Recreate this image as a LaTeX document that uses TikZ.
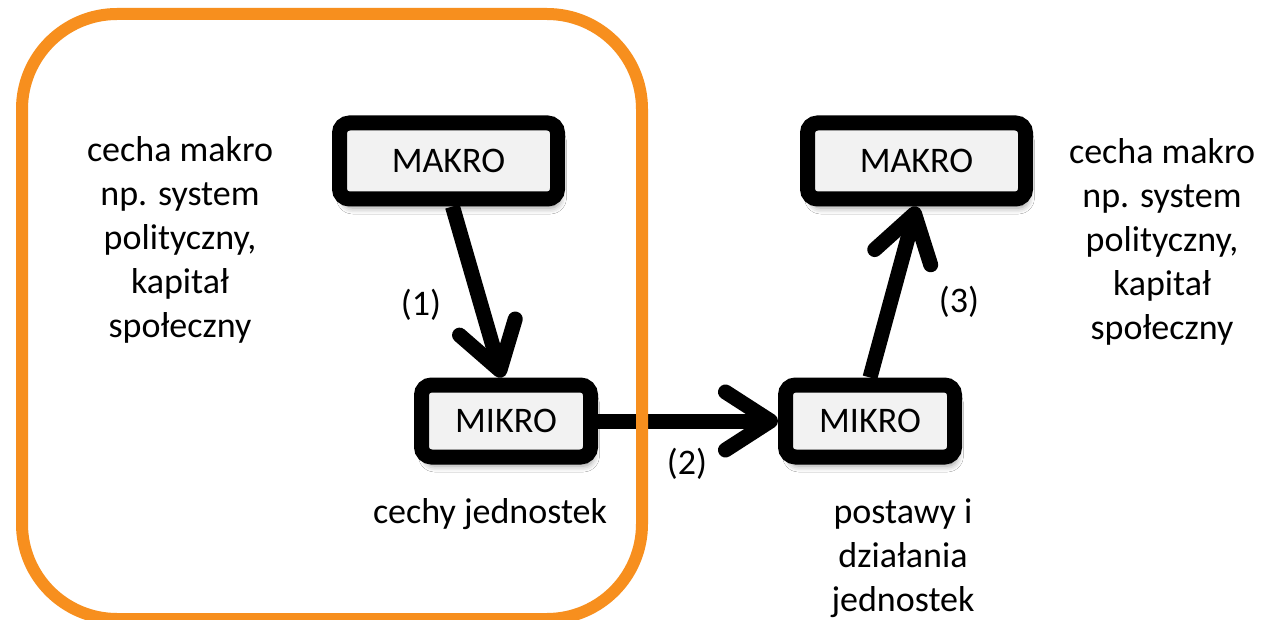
\documentclass[tikz,border=0pt]{standalone}
\usepackage{fontspec}
\setmainfont{Carlito}
\usetikzlibrary{arrows.meta,shadows.blur,calc}
\definecolor{orangebox}{RGB}{247,143,30}
\definecolor{boxfill}{RGB}{242,242,242}
\begin{document}
\begin{tikzpicture}[x=1pt,y=-1pt,
  every node/.style={font=\fontsize{36}{44}\selectfont, inner sep=0pt},
  termbox/.style={draw=black, line width=15pt, fill=boxfill, rounded corners=10pt,
    blur shadow={shadow xshift=3pt, shadow yshift=-9pt, shadow blur radius=6pt, shadow opacity=40}},
  makrobox/.style={termbox, minimum width=218pt, minimum height=76pt},
  mikrobox/.style={termbox, minimum width=169pt, minimum height=72pt},
  flow/.style={line width=15pt, -{Straight Barb[length=45pt,width=58pt,round]}},
  lbl/.style={align=center}
]
\useasboundingbox[fill=white] (0,0) rectangle (1264,620);
% boxes
\node[makrobox] (mak1) at (448.5,161) {MAKRO};
\node[mikrobox] (mik1) at (506,421) {MIKRO};
\node[mikrobox] (mik2) at (870,421) {MIKRO};
\node[makrobox] (mak2) at (916.5,161) {MAKRO};
% connectors
\draw[flow] ($(mak1.south)+(4,0)$) -- ($(mik1.north)+(-4,0)$);
\draw[flow] (mik1.east) -- (mik2.west);
\draw[flow] (mik2.north) -- (mak2.south);
% labels
\node (l1) at (421,305) {(1)};
\node (l2) at (687,464) {(2)};
\node (l3) at (959,302) {(3)};
\node[lbl] (tl) at (180,240) {cecha makro\\np. system\\polityczny,\\kapitał\\społeczny};
\node[lbl] (tr) at (1162,242) {cecha makro\\np. system\\polityczny,\\kapitał\\społeczny};
\node (cj) at (490,514) {cechy jednostek};
\node[lbl] (pd) at (903,558) {postawy i\\działania\\jednostek};
% orange frame
\draw[orangebox, line width=12pt, rounded corners=95pt] (22,14) rectangle (642,619);
\end{tikzpicture}
\end{document}
